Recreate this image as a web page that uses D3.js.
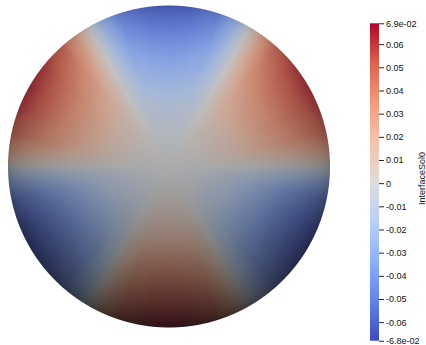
<!DOCTYPE html>
<html>
<head>
<meta charset="utf-8">
<script src="https://cdn.jsdelivr.net/npm/d3@7"></script>
<style>
  html, body { margin: 0; padding: 0; background: #ffffff; }
  svg { display: block; }
</style>
</head>
<body>
<script>
// ---------------- data ----------------
const fieldName = "InterfaceSol0";
const valueMin = -0.068;
const valueMax = 0.069;
// six 60° sectors, centre angle (deg, counter-clockwise from +x) and value at the rim
const sectorAngles = [30, 90, 150, 210, 270, 330];
const sectorPeaks  = [0.062, -0.064, 0.063, -0.068, 0.069, -0.068];
// radial profile: fraction of the rim value at relative radius
const radialPos  = [0, 0.2, 0.4, 0.6, 0.8, 1.0];
const radialFrac = [0, 0.04, 0.2, 0.45, 0.72, 1.0];
// angular profile: fraction of the sector value at angular distance (deg) from a sector boundary
const boundaryOffset = [0, 5, 12, 22, 30];
const angularFrac    = [0, 0.4, 0.78, 0.96, 1.0];
// colour bar ticks
const tickValues = [-0.06, -0.05, -0.04, -0.03, -0.02, -0.01, 0, 0.01, 0.02, 0.03, 0.04, 0.05, 0.06];
const endLabels  = ["-6.8e-02", "6.9e-02"];
// Cool to Warm colour map
const cmapPos    = [0, 0.125, 0.25, 0.375, 0.5, 0.625, 0.75, 0.875, 1];
const cmapColors = ["#3b4cc0", "#6282ea", "#8db0fe", "#b8d0f9", "#dddddd", "#f5c4ad", "#f49a7b", "#de604d", "#b40426"];

// ---------------- layout ----------------
const W = 426, H = 345;
const cx = 169, cy = 166.5, R = 161;
const bar = { x: 370, y0: 23.3, y1: 340.7, w: 9 };

const svg = d3.select("body").append("svg").attr("width", W).attr("height", H);

const colorScale = d3.scaleLinear()
  .domain(cmapPos.map(t => valueMin + t * (valueMax - valueMin)))
  .range(cmapColors)
  .interpolate(d3.interpolateRgb)
  .clamp(true);
const radialScale = d3.scaleLinear().domain(radialPos).range(radialFrac).clamp(true);
const angularScale = d3.scaleLinear().domain(boundaryOffset).range(angularFrac).clamp(true);

// ---------------- disk (rendered into an image) ----------------
const canvas = document.createElement("canvas");
canvas.width = W; canvas.height = H;
const ctx = canvas.getContext("2d");
const img = ctx.createImageData(W, H);
const ka = 0.42, kUp = 0.3, kView = 0.27, ambient = 18; // lighting (style)
for (let py = 0; py < H; py++) {
  for (let px = 0; px < W; px++) {
    const dx = (px + 0.5 - cx) / R, dy = (cy - (py + 0.5)) / R;
    const d = Math.sqrt(dx * dx + dy * dy);
    const alpha = Math.max(0, Math.min(1, (1 - d) * R + 0.5));
    if (alpha <= 0) continue;
    const rr = Math.min(d, 1);
    let phi = Math.atan2(dy, dx) * 180 / Math.PI;
    if (phi < 0) phi += 360;
    const k = Math.min(5, Math.floor(phi / 60));
    const off = 30 - Math.abs(phi - sectorAngles[k]);
    const v = sectorPeaks[k] * radialScale(rr) * angularScale(off);
    const c = d3.rgb(colorScale(v));
    const nz = Math.sqrt(Math.max(0, 1 - rr * rr));
    const ny = dy / Math.max(d, 1);
    const I = ka + kUp * ny + kView * nz;
    const i = (py * W + px) * 4;
    img.data[i] = c.r * I + ambient; img.data[i + 1] = c.g * I + ambient; img.data[i + 2] = c.b * I + ambient;
    img.data[i + 3] = 255 * alpha;
  }
}
ctx.putImageData(img, 0, 0);
svg.append("image").attr("x", 0).attr("y", 0).attr("width", W).attr("height", H)
  .attr("href", canvas.toDataURL());

// ---------------- colour bar ----------------
const yScale = d3.scaleLinear().domain([valueMin, valueMax]).range([bar.y1, bar.y0]);
const grad = svg.append("defs").append("linearGradient")
  .attr("id", "cbar").attr("x1", 0).attr("y1", 1).attr("x2", 0).attr("y2", 0);
grad.selectAll("stop").data(cmapPos).join("stop")
  .attr("offset", d => d).attr("stop-color", (d, i) => cmapColors[i]);
svg.append("rect").attr("x", bar.x).attr("y", bar.y0).attr("width", bar.w)
  .attr("height", bar.y1 - bar.y0).attr("fill", "url(#cbar)");

const allTicks = [valueMin].concat(tickValues, [valueMax]);
const axis = d3.axisRight(yScale)
  .tickValues(allTicks)
  .tickSize(5).tickPadding(2)
  .tickFormat(d => d === valueMin ? endLabels[0] : d === valueMax ? endLabels[1] : (d === 0 ? "0" : d.toFixed(2)));
const g = svg.append("g").attr("transform", `translate(${bar.x + bar.w},0)`).call(axis);
g.select(".domain").remove();
g.selectAll(".tick line").attr("stroke", "#222");
g.selectAll(".tick text").attr("fill", "#111")
  .style("font-family", "'Liberation Sans', Arial, sans-serif").style("font-size", "9px");

svg.append("text")
  .attr("transform", `translate(424.5,178.5) rotate(-90)`)
  .attr("text-anchor", "middle")
  .style("font-family", "'Liberation Sans', Arial, sans-serif").style("font-size", "9px")
  .attr("fill", "#111")
  .text(fieldName);
</script>
</body>
</html>
